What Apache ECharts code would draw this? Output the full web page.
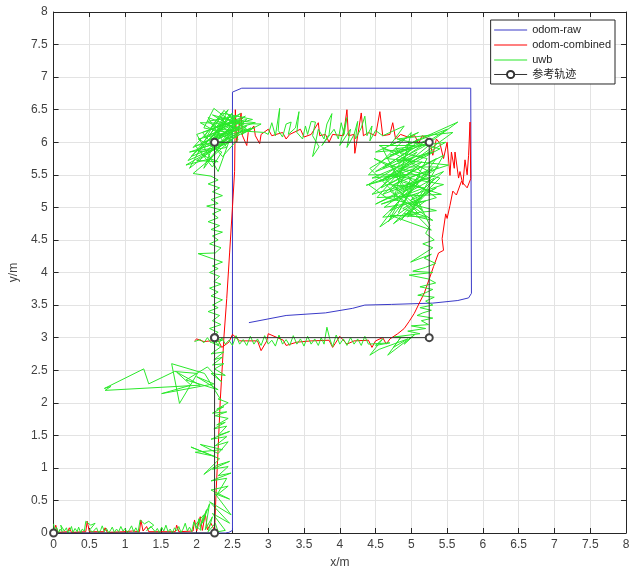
<!DOCTYPE html>
<html>
<head>
<meta charset="utf-8">
<script src="https://cdn.jsdelivr.net/npm/echarts@6/dist/echarts.min.js"></script>
<style>
html,body{margin:0;padding:0;background:#fff}
#chart{width:638px;height:581px}
</style>
</head>
<body>
<div id="chart"></div>
<script>
// 轴刻度 [min, max, interval]
var xTicks = [0, 8, 0.5]
var yTicks = [0, 8, 0.5]

// 参考轨迹
var refPath = [[0,0],[2.25,0],[2.25,3],[2.25,6],[5.25,6],[5.25,3],[2.25,3]]

// odom-raw
var odomRaw = [[0,0],[2.4,0],[2.45,0.01],[2.5,0.04],[2.5,6.77],[2.63,6.83],[5.83,6.83],[5.84,3.68],
	[5.8,3.61],[5.65,3.57],[5.3,3.53],[4.72,3.51],[4.35,3.5],[4.18,3.45],[3.8,3.38],[3.25,3.34],[2.73,3.23]]

// odom-combined, 分段
var combBottom = [[0,0],[0.03,0.12],[0.06,0.01],[0.2,0.02],[0.22,0.08],[0.25,0.01],[0.45,0.02],[0.47,0.18],
	[0.5,0.02],[0.7,0.02],[0.72,0.08],[0.75,0.01],[1.0,0.02],[1.1,0.03],[1.2,0.02],[1.22,0.2],[1.25,0.03],
	[1.3,0.1],[1.33,0.02],[1.7,0.02],[1.72,0.12],[1.75,0.02],[1.95,0.03],[1.97,0.2],[2.0,0.03],[2.05,0.25],
	[2.08,0.04],[2.12,0.3],[2.15,0.05],[2.2,0.15],[2.25,0.04]]
var combRise = [[2.27,0.6],[2.3,1.3],[2.33,2.05],[2.36,2.6],[2.38,3.0],[2.42,3.6],[2.46,4.3],[2.5,5.0],
	[2.53,5.55],[2.54,6.5],[2.56,6.0],[2.58,6.15]]
var combTop = [[2.62,6.45],[2.64,6.1],[2.7,5.95],[2.72,6.15],[2.8,6.25],[2.82,6.1],[2.88,5.98],[2.9,6.12],
	[3.0,6.2],[3.05,6.1],[3.2,6.15],[3.25,6.05],[3.3,6.12],[3.45,6.2],[3.5,6.08],[3.6,6.12],[3.7,6.3],
	[3.72,6.1],[3.8,6.12],[3.85,6.0],[3.9,6.12],[4.05,6.1],[4.1,6.5],[4.12,6.1],[4.2,6.12],[4.21,5.83],
	[4.25,6.1],[4.3,6.45],[4.33,6.1],[4.4,6.15],[4.5,6.1],[4.56,6.47],[4.6,6.1],[4.7,6.12],[4.74,6.3],
	[4.78,6.05],[4.85,6.12],[4.95,6.08],[5.05,6.1],[5.1,5.98],[5.15,6.1],[5.25,6.05],[5.3,5.8],[5.35,6.05],
	[5.4,5.98],[5.45,5.75],[5.5,6.0]]
var combRight = [[5.52,5.98],[5.54,5.49],[5.56,5.85],[5.6,5.6],[5.61,5.85],[5.66,5.45],[5.68,5.55],
	[5.72,5.35],[5.75,5.73],[5.78,5.5],[5.8,5.8],[5.82,6.31],[5.83,5.44],[5.78,5.3],[5.7,5.4],[5.63,5.19],
	[5.58,5.25],[5.54,5.03],[5.5,4.83],[5.48,4.9],[5.43,4.52],[5.45,4.34],[5.38,4.3],[5.31,4.09],
	[5.25,3.9],[5.18,3.68],[5.12,3.55],[5.04,3.37],[4.97,3.25],[4.9,3.14],[4.81,3.06]]
var combReturn = [[4.7,2.98],[4.65,2.9],[4.6,3.0],[4.5,2.95],[4.45,2.85],[4.4,2.96],[4.2,2.95],[4.1,2.9],
	[4.0,3.02],[3.9,2.85],[3.85,2.96],[3.6,2.95],[3.4,2.93],[3.25,2.88],[3.21,2.96],[3.0,3.06],[2.98,2.95],
	[2.9,2.8],[2.85,2.95],[2.6,2.95],[2.5,3.05],[2.45,2.93],[2.35,2.85],[2.3,2.96],[2.1,2.94],[2.0,2.98],[1.97,2.95]]

// uwb, 分段
var uwbBottom = [[0,0.14],[0.02,0.01],[0.04,0.09],[0.07,0.0],[0.09,0.06],[0.12,0.02],[0.1,0.12],[0.15,0.03],
	[0.18,0.08],[0.2,0.0],[0.23,0.05],[0.25,0.1],[0.27,0.01],[0.3,0.07],[0.33,0.02],[0.35,0.09],[0.38,0.0],
	[0.4,0.06],[0.43,0.03],[0.45,0.18],[0.52,0.12],[0.58,0.15],[0.5,0.04],[0.55,0.02],[0.6,0.08],[0.63,0.0],
	[0.66,0.05],[0.68,0.11],[0.71,0.02],[0.74,0.07],[0.77,0.0],[0.8,0.05],[0.82,0.09],[0.85,0.01],[0.88,0.06],
	[0.91,0.02],[0.94,0.1],[0.97,0.03],[1.0,0.07],[1.03,0.0],[1.06,0.05],[1.09,0.11],[1.12,0.02],[1.15,0.08],
	[1.18,0.01],[1.21,0.2],[1.27,0.14],[1.33,0.18],[1.4,0.12],[1.3,0.04],[1.36,0.1],[1.42,0.02],[1.45,0.07],
	[1.48,0.0],[1.51,0.09],[1.54,0.03],[1.57,0.12],[1.6,0.02],[1.63,0.06],[1.66,0.0],[1.69,0.08],[1.72,0.03],
	[1.75,0.1],[1.78,0.01],[1.81,0.06],[1.84,0.15],[1.87,0.03],[1.9,0.09],[1.93,0.02],[1.96,0.17],[2.0,0.06],
	[2.03,0.22],[2.06,0.04],[1.98,0.12],[2.1,0.28],[2.05,0.1],[2.14,0.36],[2.08,0.15],[2.18,0.45],[2.12,0.05],
	[2.22,0.25],[2.16,0.02],[2.26,0.15],[2.3,0.02]]
var uwbRise = [[2.4,0.04],[2.22,0.3],[2.46,0.15],[2.18,0.48],[2.48,0.28],[2.26,0.6],[2.46,0.52],[2.2,0.66],
	[2.44,0.72],[2.28,0.58],[2.42,0.84],[2.2,0.8],[2.48,0.92],[2.3,0.88],[2.44,1.02],[2.22,0.98],[2.46,1.1],
	[2.28,1.04],[2.1,0.9],[2.32,1.14],[1.92,1.32],[2.24,1.18],[1.98,1.24],[2.36,1.28],[2.05,1.36],[2.3,1.22],
	[2.44,1.4],[2.26,1.34],[2.42,1.48],[2.2,1.44],[2.46,1.56],[2.3,1.5],[2.42,1.64],[2.24,1.6],[2.4,1.7],
	[2.28,1.66],[2.44,1.76],[2.26,1.8],[2.42,1.86],[2.22,1.84],[2.38,1.94],[2.28,1.9],[2.44,2.0],[2.3,2.06]]
var uwbJump = [[2.34,2.04],[2.11,2.45],[1.65,2.6],[1.76,1.99],[2.01,2.45],[1.69,2.48],[1.33,2.29],[1.26,2.52],
	[0.71,2.22],[0.8,2.25],[0.72,2.19],[2.05,2.27],[1.72,2.47],[1.92,2.27],[1.51,2.14],[2.24,2.29],[2.0,2.4],
	[2.3,2.2],[1.85,2.35],[2.15,2.55],[2.35,2.32],[2.2,2.45],[2.4,2.42],[2.25,2.52],[2.38,2.6],[2.22,2.58],
	[2.36,2.7],[2.24,2.66],[2.38,2.78],[2.2,2.75],[2.34,2.86],[2.22,2.92],[2.36,2.96],[2.2,3.02]]
var uwbUpper = [[2.3,3.08],[2.18,3.14],[2.34,3.2],[2.22,3.26],[2.32,3.34],[2.16,3.4],[2.3,3.46],[2.22,3.5],
	[2.36,3.58],[2.2,3.64],[2.3,3.7],[2.18,3.76],[2.34,3.82],[2.24,3.86],[2.32,3.94],[2.18,4.0],[2.3,4.06],
	[2.22,4.1],[2.36,4.16],[2.2,4.22],[2.02,4.29],[2.26,4.3],[2.34,4.38],[2.18,4.44],[2.3,4.5],[2.22,4.56],
	[2.36,4.62],[2.2,4.66],[2.32,4.72],[2.16,4.78],[2.3,4.84],[2.22,4.9],[2.34,4.96],[2.14,5.02],[2.3,5.06],
	[2.2,5.12],[2.36,5.18],[2.22,5.24],[2.32,5.3],[2.16,5.36],[2.3,5.42],[2.2,5.48]]
var uwbCorner = [[1.95,5.52],[2.2,5.75],[1.85,5.65],[2.28,5.92],[1.9,5.85],[2.32,6.0],[1.98,5.95],[2.22,5.62],
	[2.35,5.85],[2.02,6.05],[2.42,6.15],[2.1,6.22],[2.24,6.52],[2.5,6.3],[2.18,6.1],[2.38,6.49],[2.6,6.25],
	[2.12,6.0],[2.61,6.44],[2.3,6.25],[2.7,6.35],[2.4,6.05],[2.76,6.22],[2.2,5.86],[2.6,6.12],[2.34,6.36],
	[2.82,6.3],[2.45,6.18],[2.05,5.9],[2.5,6.08],[2.15,6.32],[2.55,6.4],[2.28,6.15],[1.92,5.78],[2.38,5.98],
	[2.0,5.72],[2.3,5.7],[2.08,5.8],[2.48,6.25],[2.22,6.42],[2.66,6.28],[2.32,6.1],[2.58,6.2],[2.25,6.02],
	[2.45,6.42],[2.72,6.18],[2.4,6.28],[2.2,6.2],[2.54,6.32],[2.35,6.08],[2.8,6.22],[2.62,6.12],[2.9,6.28]]
var uwbCorner2 = [[2.05,6.3],[2.5,6.02],[1.88,5.72],[2.4,6.4],[2.1,5.6],[2.6,6.35],[2.0,6.12],[2.3,5.55],
	[2.52,6.22],[1.95,5.92],[2.44,6.5],[2.18,5.95],[2.68,6.4],[2.08,6.15],[2.36,5.78],[2.58,6.05],[2.26,6.32],
	[1.9,5.6],[2.46,6.1],[2.14,5.7],[2.7,6.25],[2.24,6.05],[2.5,6.45],[2.02,5.85],[2.42,5.92],[2.16,6.38],
	[2.64,6.18],[2.3,5.95],[2.55,6.28],[2.1,6.08],[2.35,6.45],[2.78,6.35],[2.28,6.2],[2.95,6.15]]
var uwbTop = [[3.0,6.12],[3.05,6.3],[3.1,6.1],[3.16,6.52],[3.14,6.18],[3.2,6.08],[3.25,6.28],[3.32,6.31],
	[3.28,6.12],[3.38,6.22],[3.43,6.47],[3.4,6.15],[3.48,6.05],[3.52,6.25],[3.55,6.12],[3.6,6.32],[3.66,6.31],
	[3.62,6.1],[3.71,5.93],[3.62,5.78],[3.7,6.2],[3.78,6.05],[3.82,6.28],[3.89,6.44],[3.85,6.12],[3.75,5.95],
	[3.92,6.2],[3.98,6.05],[4.02,6.3],[4.06,6.12],[4.1,6.38],[4.0,5.95],[4.15,6.2],[4.1,5.92],[4.2,6.12],
	[4.25,6.32],[4.22,6.05],[4.3,6.22],[4.35,6.4],[4.38,6.1],[4.45,6.25],[4.42,6.02],[4.5,6.18]]
var uwbCluster = [[4.6,6.1],[4.9,6.25],[4.7,5.95],[5.1,6.15],[4.5,5.85],[5.0,5.9],[4.6,5.6],[5.2,5.95],
	[5.65,6.31],[4.92,5.95],[5.5,6.2],[4.8,5.7],[5.3,5.85],[4.45,5.45],[4.9,5.5],[4.37,5.34],[5.05,5.6],
	[4.6,5.2],[5.2,5.45],[4.5,5.05],[5.0,5.3],[4.7,4.95],[5.15,5.15],[4.56,4.7],[4.8,5.05],[4.6,4.85],
	[5.1,4.9],[4.75,5.35],[5.3,5.6],[4.9,5.15],[5.45,5.35],[4.7,5.5],[5.25,5.25],[4.85,4.8],[5.05,5.05],
	[5.35,5.15],[4.95,5.45],[5.52,5.65],[4.65,5.75],[5.25,6.05],[4.5,5.55],[5.0,5.75],[4.4,5.35],[4.65,5.15],
	[5.35,4.95],[4.9,4.9],[5.3,4.8],[4.7,5.25],[5.15,5.7],[4.55,5.4],[5.4,5.9],[4.8,6.05],[5.58,6.15],
	[4.95,5.65],[4.45,5.2],[5.1,5.4],[4.62,5.0],[5.2,5.1],[4.75,4.75],[5.4,5.45],[4.85,5.6],[5.3,6.0],
	[4.7,5.8],[5.05,5.95],[4.55,5.95],[5.25,5.55],[4.8,5.25],[5.45,5.55],[4.98,5.1],[5.35,5.3],[4.88,4.98],
	[5.22,4.85],[4.7,4.88],[5.28,4.65]]
var uwbCluster2 = [[4.42,5.6],[5.1,6.05],[4.58,5.3],[5.35,5.75],[4.68,4.78],[5.0,5.45],[4.48,5.75],[5.28,5.4],
	[4.78,5.9],[5.48,6.0],[4.62,5.45],[5.15,4.95],[4.85,5.4],[5.42,5.2],[4.52,5.15],[5.08,5.85],[4.72,5.62],
	[5.38,5.62],[4.9,5.25],[4.6,5.9],[5.22,5.75],[4.82,4.92],[5.12,5.5],[4.4,5.5],[5.0,6.15],[4.75,5.1],
	[5.32,5.45],[4.95,4.85],[5.45,5.8],[4.68,5.35],[5.18,5.3],[4.58,5.05],[5.05,5.2],[5.26,4.72]]
var uwbRight = [[5.2,4.6],[5.32,4.5],[5.16,4.44],[5.3,4.38],[4.99,4.16],[5.28,4.28],[5.18,4.22],[5.34,4.14],
	[5.2,4.08],[5.02,4.02],[5.3,4.0],[4.97,3.96],[5.24,3.9],[5.34,3.84],[5.12,3.78],[5.3,3.74],[5.18,3.68],
	[5.09,3.65],[5.32,3.62],[5.2,3.56],[5.3,3.5],[5.12,3.46],[5.28,3.42],[5.16,3.38],[5.08,3.34],[5.3,3.3],
	[5.14,3.26],[5.24,3.2],[5.0,3.18],[5.2,3.14],[4.95,3.1],[5.12,3.06],[4.76,3.01],[5.0,3.0]]
var uwbReturn = [[4.9,2.9],[5.05,3.05],[4.67,2.73],[4.85,3.0],[4.75,2.85],[4.95,2.98],[4.55,2.82],[4.42,2.73],
	[4.6,2.98],[4.5,2.88],[4.7,2.92],[4.4,2.9],[4.35,3.02],[4.3,2.88],[4.25,2.98],[4.2,2.9],[4.15,3.0],
	[4.1,2.88],[4.05,2.98],[4.0,2.9],[3.95,3.04],[3.9,2.86],[3.86,2.98],[3.82,3.16],[3.78,2.9],[3.74,3.0],
	[3.7,2.88],[3.65,2.98],[3.6,2.9],[3.55,3.02],[3.5,2.87],[3.45,2.98],[3.4,2.9],[3.35,3.03],[3.3,2.88],
	[3.25,2.97],[3.2,2.9],[3.15,3.04],[3.1,2.87],[3.05,2.96],[3.0,2.9],[2.95,3.03],[2.9,2.88],[2.85,2.98],
	[2.8,2.9],[2.75,3.02],[2.7,2.88],[2.65,2.97],[2.6,2.9],[2.55,3.03],[2.5,2.88],[2.45,2.96],[2.4,2.9],
	[2.35,3.0],[2.3,2.88],[2.25,2.98],[2.2,2.92],[2.15,3.0],[2.1,2.92],[2.05,2.97],[1.97,2.94]]

var odomCombined = [].concat(combBottom, combRise, combTop, combRight, combReturn)
var uwb = [].concat(uwbBottom, uwbRise, uwbJump, uwbUpper, uwbCorner, uwbCorner2, uwbTop,
	uwbCluster, uwbCluster2, uwbRight, uwbReturn)

var axisColor = "#262626"
var fontFam = "'Liberation Sans', Arial, 'Noto Sans CJK SC', sans-serif"
// 图例里的细线图标
var lineIcon = 'path://M0,0L33,0L33,0.02L0,0.02Z M0,4.5L33,4.5L33,5.5L0,5.5Z M0,8.98L33,8.98L33,9L0,9Z'

function valueAxis(pos, ticks, withLabel) {
	return {
		type: 'value',
		position: pos,
		min: ticks[0],
		max: ticks[1],
		interval: ticks[2],
		axisLine: { show: true, onZero: false, lineStyle: { color: axisColor, width: 1 } },
		axisTick: { show: true, inside: true, length: 5, lineStyle: { color: axisColor } },
		axisLabel: { show: withLabel, color: '#404040', fontSize: 12, fontFamily: fontFam, margin: 6 },
		splitLine: { show: withLabel, lineStyle: { color: '#e3e3e3', width: 1 } }
	}
}

var xMain = valueAxis('bottom', xTicks, true)
xMain.name = 'x/m'
xMain.nameLocation = 'middle'
xMain.nameGap = 24
xMain.nameTextStyle = { color: '#404040', fontSize: 12, fontFamily: fontFam }
var yMain = valueAxis('left', yTicks, true)
yMain.name = 'y/m'
yMain.nameLocation = 'middle'
yMain.nameGap = 29
yMain.nameTextStyle = { color: '#404040', fontSize: 12, fontFamily: fontFam }

var chart = echarts.init(document.getElementById('chart'))
chart.setOption({
	animation: false,
	backgroundColor: '#fff',
	grid: { left: 43, right: 12, top: 12, bottom: 48 },
	xAxis: [xMain, valueAxis('top', xTicks, false)],
	yAxis: [yMain, valueAxis('right', yTicks, false)],
	legend: {
		orient: 'vertical',
		right: 23,
		top: 20,
		backgroundColor: '#fff',
		borderColor: axisColor,
		borderWidth: 1,
		padding: [4, 4, 4, 3],
		itemGap: 4,
		itemWidth: 33,
		itemHeight: 9,
		textStyle: { color: '#262626', fontSize: 11, fontFamily: fontFam },
		data: [
			{ name: 'odom-raw', icon: lineIcon },
			{ name: 'odom-combined', icon: lineIcon },
			{ name: 'uwb', icon: lineIcon },
			{ name: '参考轨迹', lineStyle: { width: 1 }, itemStyle: { borderWidth: 1, color: '#333', borderColor: '#333' } }
		]
	},
	series: [
		{
			name: 'odom-raw', type: 'line', data: odomRaw, symbol: 'none',
			lineStyle: { color: '#3a3ac8', width: 1 }, itemStyle: { color: '#3a3ac8' }
		},
		{
			name: 'odom-combined', type: 'line', data: odomCombined, symbol: 'none',
			lineStyle: { color: '#ff0000', width: 1 }, itemStyle: { color: '#ff0000' }
		},
		{
			name: 'uwb', type: 'line', data: uwb, symbol: 'none',
			lineStyle: { color: '#2ae82a', width: 1 }, itemStyle: { color: '#2ae82a' }
		},
		{
			name: '参考轨迹', type: 'line', data: refPath, symbol: 'emptyCircle', symbolSize: 7,
			lineStyle: { color: '#333', width: 1 }, itemStyle: { color: '#444', borderWidth: 0.8 }
		}
	]
})
</script>
</body>
</html>
